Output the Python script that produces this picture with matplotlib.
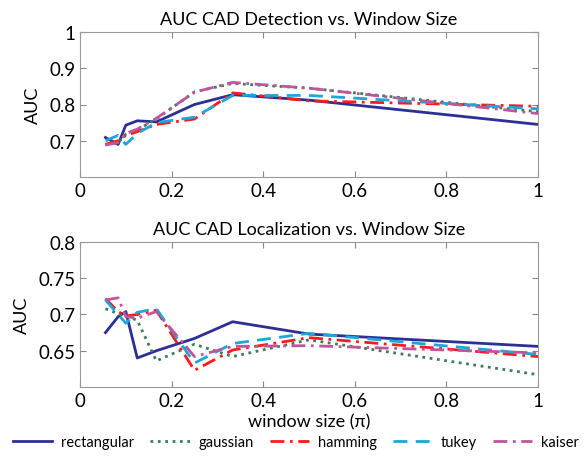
import matplotlib
matplotlib.use('Agg')
import matplotlib.pyplot as plt
import numpy as np

plt.rcParams['font.family'] = ['Lato', 'DejaVu Sans']

# window sizes (fractions of pi)
window = [1/18, 1/12, 1/10, 1/8, 1/6, 1/4, 1/3, 1/2, 1]

# AUC, detection
det_rect  = [0.709, 0.690, 0.743, 0.755, 0.752, 0.800, 0.827, 0.812, 0.745]
det_gauss = [0.690, 0.695, 0.718, 0.730, 0.760, 0.835, 0.858, 0.845, 0.780]
det_hamm  = [0.690, 0.700, 0.715, 0.725, 0.745, 0.760, 0.832, 0.810, 0.795]
det_tukey = [0.700, 0.715, 0.690, 0.720, 0.750, 0.765, 0.825, 0.825, 0.788]
det_kais  = [0.688, 0.695, 0.720, 0.732, 0.762, 0.834, 0.861, 0.845, 0.775]

# AUC, localization
loc_rect  = [0.675, 0.697, 0.704, 0.640, 0.650, 0.667, 0.690, 0.673, 0.656]
loc_gauss = [0.708, 0.701, 0.698, 0.692, 0.636, 0.659, 0.642, 0.665, 0.617]
loc_hamm  = [0.722, 0.704, 0.698, 0.700, 0.706, 0.623, 0.651, 0.668, 0.642]
loc_tukey = [0.720, 0.700, 0.688, 0.703, 0.708, 0.633, 0.660, 0.674, 0.645]
loc_kais  = [0.720, 0.723, 0.697, 0.695, 0.704, 0.642, 0.656, 0.657, 0.647]

names = ['rectangular', 'gaussian', 'hamming', 'tukey', 'kaiser']
colors = ['#2b2f96', '#3d7d55', '#ff1a1a', '#1aa7d9', '#c0559c']
styles = ['-', ':', (0, (5, 2, 1, 2)), (0, (5, 3)), (0, (5, 2, 1, 2))]

fig = plt.figure(figsize=(5.86, 4.6), dpi=100)
ax1 = fig.add_axes([80/586, 1-178/460, 458/586, 145/460])
ax2 = fig.add_axes([80/586, 1-388/460, 458/586, 145/460])

det = [det_rect, det_gauss, det_hamm, det_tukey, det_kais]
loc = [loc_rect, loc_gauss, loc_hamm, loc_tukey, loc_kais]

lines = []
for i in range(5):
    l, = ax1.plot(window, det[i], color=colors[i], linestyle=styles[i], lw=2, label=names[i])
    ax2.plot(window, loc[i], color=colors[i], linestyle=styles[i], lw=2)
    lines.append(l)

ax1.set_xlim(0, 1)
ax1.set_ylim(0.6, 1)
ax1.set_yticks([0.7, 0.8, 0.9, 1])
ax1.set_yticklabels(['0.7', '0.8', '0.9', '1'])
ax1.set_title('AUC CAD Detection vs. Window Size', fontsize=13, pad=6)
ax1.set_ylabel('AUC', fontsize=13, labelpad=6)

ax2.set_xlim(0, 1)
ax2.set_ylim(0.6, 0.8)
ax2.set_yticks([0.65, 0.7, 0.75, 0.8])
ax2.set_yticklabels(['0.65', '0.7', '0.75', '0.8'])
ax2.set_title('AUC CAD Localization vs. Window Size', fontsize=13, pad=6)
ax2.set_ylabel('AUC', fontsize=13, labelpad=6)
ax2.set_xlabel('window size (\u03c0)', fontsize=13, labelpad=3)

for ax in (ax1, ax2):
    ax.set_xticks([0, 0.2, 0.4, 0.6, 0.8, 1])
    ax.set_xticklabels(['0', '0.2', '0.4', '0.6', '0.8', '1'])
    ax.tick_params(direction='in', top=True, right=True, labelsize=13.5, length=4, color='#888888')
    for s in ax.spines.values():
        s.set_color('#999999')

fig.legend(handles=lines, loc='center', bbox_to_anchor=(0.505, 1-443/460), ncol=5,
           frameon=False, fontsize=10.5, handlelength=2.7, columnspacing=1.1, handletextpad=0.6)

fig.savefig('out.png', dpi=100)
